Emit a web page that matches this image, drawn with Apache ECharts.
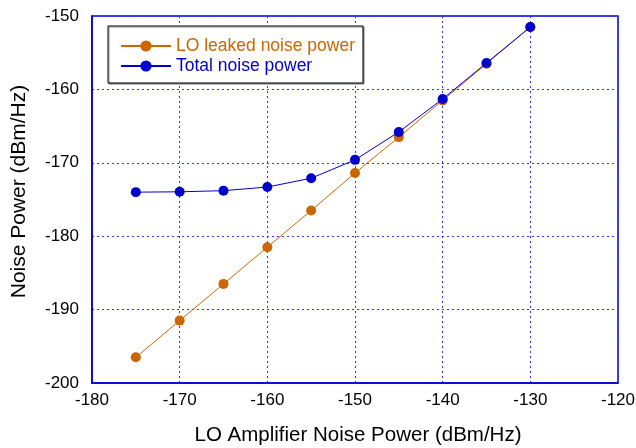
<!DOCTYPE html>
<html>
<head>
<meta charset="utf-8">
<script src="https://cdn.jsdelivr.net/npm/echarts@6/dist/echarts.min.js"></script>
<style>
  html, body { margin: 0; padding: 0; background: #fff; }
  #chart { width: 636px; height: 448px; }
</style>
</head>
<body>
<div id="chart"></div>
<script>
// data
var xValues = [-175, -170, -165, -160, -155, -150, -145, -140, -135, -130];
var loLeaked = [-196.5, -191.5, -186.5, -181.5, -176.5, -171.4, -166.5, -161.5, -156.5, -151.5];
var totalNoise = [-174.0, -173.95, -173.8, -173.3, -172.1, -169.6, -165.8, -161.3, -156.4, -151.5];
var seriesNames = ['LO leaked noise power', 'Total noise power'];

var orange = '#cc6600';
var blue = '#0000cc';
var font = 'Liberation Sans, Arial, sans-serif';

function pairs(ys) {
  var out = [];
  for (var i = 0; i < xValues.length; i++) out.push([xValues[i], ys[i]]);
  return out;
}

var gridLine = { show: true, lineStyle: { color: '#3333ee', type: [2, 3], width: 1 } };

var option = {
  backgroundColor: '#fff',
  animation: false,
  textStyle: { fontFamily: font },
  grid: {
    left: 92, top: 16, right: 18, bottom: 65,
    outerBoundsMode: 'none',
    show: true, borderColor: blue, borderWidth: 1.5
  },
  legend: {
    orient: 'vertical',
    left: 108, top: 26,
    padding: [11, 8, 8, 12],
    itemGap: 2,
    itemWidth: 50, itemHeight: 14,
    borderColor: '#000', borderWidth: 1,
    backgroundColor: '#fff',
    shadowColor: '#888', shadowBlur: 1, shadowOffsetX: 1, shadowOffsetY: 1,
    data: seriesNames,
    textStyle: { fontSize: 17.5, lineHeight: 18, fontFamily: font }
  },
  xAxis: {
    type: 'value',
    min: -180, max: -120, interval: 10,
    name: 'LO Amplifier Noise Power (dBm/Hz)',
    nameLocation: 'middle', nameGap: 42,
    nameTextStyle: { fontSize: 20.5, color: '#000', fontFamily: font, padding: [0, 0, 0, 6] },
    axisLine: { show: true, lineStyle: { color: blue, width: 1.5 } },
    axisTick: { show: false },
    axisLabel: { color: '#000', fontSize: 17, margin: 9, fontFamily: font },
    splitLine: gridLine
  },
  yAxis: {
    type: 'value',
    min: -200, max: -150, interval: 10,
    name: 'Noise Power (dBm/Hz)',
    nameLocation: 'middle', nameGap: 62,
    nameTextStyle: { fontSize: 21, color: '#000', fontFamily: font, padding: [0, 0, 0, 16] },
    axisLine: { show: true, lineStyle: { color: blue, width: 1.5 } },
    axisTick: { show: false },
    axisLabel: { color: '#000', fontSize: 17, margin: 13, fontFamily: font },
    splitLine: gridLine
  },
  series: [
    {
      name: seriesNames[0], type: 'line',
      data: pairs(loLeaked),
      symbol: 'circle', symbolSize: 10,
      lineStyle: { color: orange, width: 1 },
      itemStyle: { color: orange },
      z: 2
    },
    {
      name: seriesNames[1], type: 'line',
      data: pairs(totalNoise),
      symbol: 'circle', symbolSize: 10,
      lineStyle: { color: blue, width: 1 },
      itemStyle: { color: blue },
      z: 3
    }
  ]
};

var chart = echarts.init(document.getElementById('chart'));
chart.setOption(option);
// legend text in series colour
chart.setOption({
  legend: {
    data: [
      { name: seriesNames[0], textStyle: { color: orange } },
      { name: seriesNames[1], textStyle: { color: blue } }
    ]
  }
});
</script>
</body>
</html>
